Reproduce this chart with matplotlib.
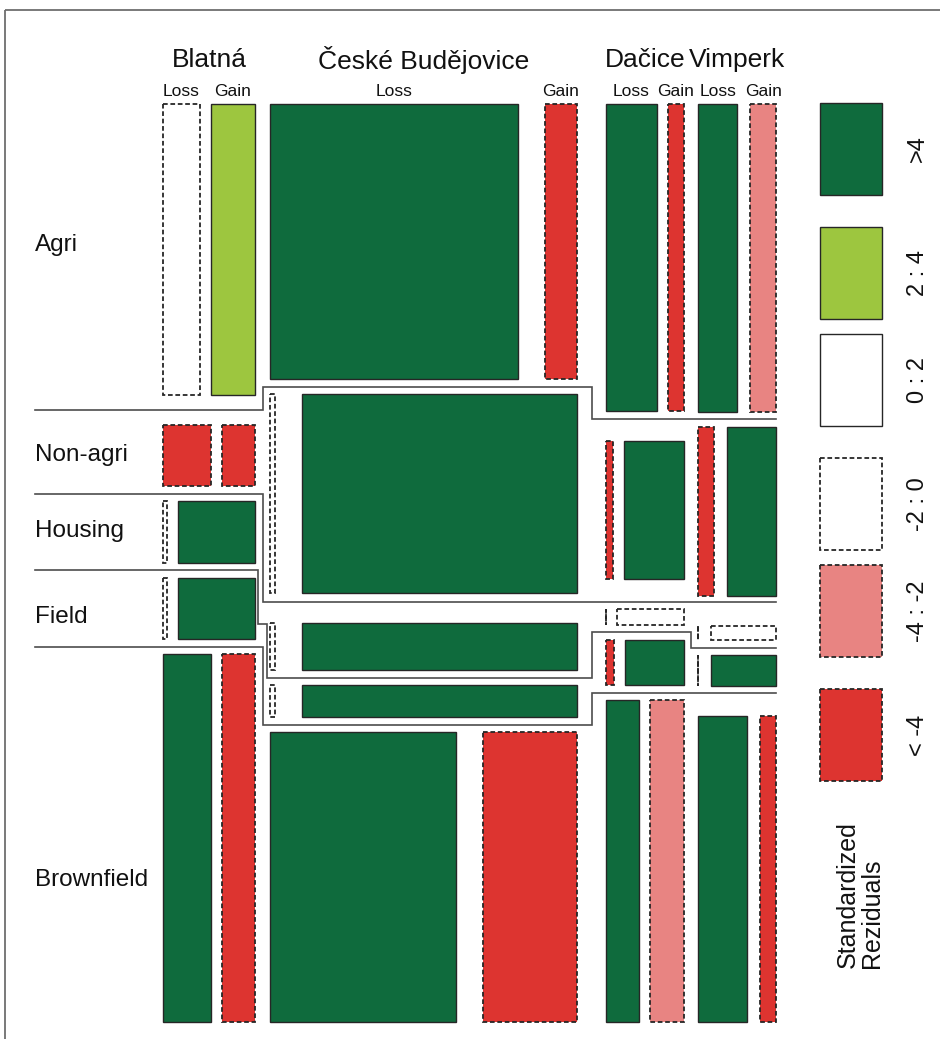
import matplotlib.pyplot as plt
from matplotlib.patches import Rectangle

# ------------------------------------------------------------
# Land-use change by district (mosaic of Loss / Gain areas)
# rows follow `categories`, columns follow `changes`
# ------------------------------------------------------------
districts = ["Blatná", "České Budějovice", "Dačice", "Vimperk"]
categories = ["Agri", "Non-agri", "Housing", "Field", "Brownfield"]
changes = ["Loss", "Gain"]

blatna = [[144, 174], [40, 27], [3, 64], [3, 64], [240, 162]]
budejovice = [[886, 116], [13, 712], [3, 168], [2, 114], [702, 354]]
dacice = [[218, 71], [13, 117], [0, 15], [5, 38], [149, 154]]
vimperk = [[176, 114], [40, 119], [0, 14], [0, 29], [218, 70]]

# standardized residual class of every tile
blatna_res = [["-2:0", "2:4"], ["<-4", "<-4"], ["-2:0", ">4"], ["-2:0", ">4"], [">4", "<-4"]]
budejovice_res = [[">4", "<-4"], ["-2:0", ">4"], ["-2:0", ">4"], ["-2:0", ">4"], [">4", "<-4"]]
dacice_res = [[">4", "<-4"], ["<-4", ">4"], ["-2:0", "-2:0"], ["<-4", ">4"], [">4", "-4:-2"]]
vimperk_res = [[">4", "-4:-2"], ["<-4", ">4"], ["-2:0", "-2:0"], ["-2:0", ">4"], [">4", "<-4"]]

res_classes = [">4", "2:4", "0:2", "-2:0", "-4:-2", "<-4"]
res_text = [">4", "2 : 4", "0 : 2", "-2 : 0", "-4 : -2", "< -4"]

tables = [blatna, budejovice, dacice, vimperk]
resids = [blatna_res, budejovice_res, dacice_res, vimperk_res]

# ------------------------------------------------------------
# styling / layout (canvas units = pixels of the 940 x 1039 image)
# ------------------------------------------------------------
fill = {">4": "#0f6b3d", "2:4": "#9dc63f", "0:2": "white",
        "-2:0": "white", "-4:-2": "#e88482", "<-4": "#dd3430"}
negative = {"-2:0", "-4:-2", "<-4"}
EDGE = "#262626"
DASH = (0, (2.6, 1.5))

X0, X1, Y0, Y1 = 163, 776, 104, 1022
col_gap = [15, 29, 14]
row_gap = [[30, 15, 15, 15], [15, 30, 15, 15], [30, 30, 15, 15], [15, 30, 15, 30]]
split_gap = [11, 27, 11, 13]

plt.rcParams["font.family"] = ["Liberation Sans", "DejaVu Sans"]

fig = plt.figure(figsize=(9.4, 10.39), dpi=100)
ax = fig.add_axes([0, 0, 1, 1])
ax.set_xlim(0, 940)
ax.set_ylim(1039, 0)
ax.axis("off")


def tile(x, y, w, h, cls):
    dashed = cls in negative
    ax.add_patch(Rectangle((x, y), w, h, facecolor=fill[cls], edgecolor=EDGE,
                           linewidth=1.3 if dashed else 1.0,
                           linestyle=DASH if dashed else "solid", zorder=3))


# ---- mosaic geometry -------------------------------------------------
totals = [sum(sum(r) for r in t) for t in tables]
usable_w = (X1 - X0) - sum(col_gap)
cols = []
x = X0
for d, tot in enumerate(totals):
    w = usable_w * tot / sum(totals)
    cols.append((x, x + w))
    if d < len(col_gap):
        x += w + col_gap[d]

rows = []
for d, t in enumerate(tables):
    usable_h = (Y1 - Y0) - sum(row_gap[d])
    y = Y0
    rr = []
    for c, (lo, ga) in enumerate(t):
        h = usable_h * (lo + ga) / totals[d]
        rr.append((y, y + h))
        if c < len(row_gap[d]):
            y += h + row_gap[d][c]
    rows.append(rr)

tiles = {}
for d, t in enumerate(tables):
    xl, xr = cols[d]
    inner = (xr - xl) - split_gap[d]
    for c, (loss, gain) in enumerate(t):
        top, bot = rows[d][c]
        wl = inner * loss / (loss + gain)
        wg = inner * gain / (loss + gain)
        tiles[d, c, 0] = (xl, top, wl, bot - top)
        tiles[d, c, 1] = (xr - wg, top, wg, bot - top)

for (d, c, g), (tx, ty, tw, th) in tiles.items():
    tile(tx, ty, tw, th, resids[d][c][g])

# ---- separators between categories, stepping through the gaps ---------
LINE_X0 = 35
NUDGE = 4.5
step_x = [(cols[g][1] + cols[g + 1][0]) / 2 for g in range(len(cols) - 1)]

seps = []
for k in range(len(categories) - 1):
    gaps = [(rows[d][k][1], rows[d][k + 1][0]) for d in range(len(tables))]
    lo, hi = gaps[0]
    start = 0
    segs = []
    for d in range(1, len(gaps)):
        nlo, nhi = gaps[d]
        if min(hi, nhi) - max(lo, nlo) > 3:
            lo, hi = max(lo, nlo), min(hi, nhi)
        else:
            segs.append((start, (lo + hi) / 2))
            start, lo, hi = d, nlo, nhi
    segs.append((start, (lo + hi) / 2))
    seps.append(segs)

runs = {}
for k, segs in enumerate(seps):
    for (_, ya), (d1, yb) in zip(segs[:-1], segs[1:]):
        runs[k, d1 - 1] = (min(ya, yb), max(ya, yb))


def overlaps(a, b):
    return a is not None and b is not None and min(a[1], b[1]) > max(a[0], b[0])


def both_sides(k, g):
    run = runs.get((k, g))
    return overlaps(run, runs.get((k - 1, g))) and overlaps(run, runs.get((k + 1, g)))


for k, segs in enumerate(seps):
    xs, ys = [LINE_X0], [segs[0][1]]
    for (_, ya), (d1, yb) in zip(segs[:-1], segs[1:]):
        g = d1 - 1
        xm = step_x[g]
        run = runs[k, g]
        if both_sides(k, g):
            yj = (runs[k - 1, g][1] + runs[k + 1, g][0]) / 2
            xs += [xm - NUDGE, xm - NUDGE, xm + NUDGE, xm + NUDGE]
            ys += [ya, yj, yj, yb]
        else:
            xv = xm
            if overlaps(run, runs.get((k - 1, g))) and not both_sides(k - 1, g):
                xv = xm - NUDGE
            elif overlaps(run, runs.get((k + 1, g))) and not both_sides(k + 1, g):
                xv = xm + NUDGE
            xs += [xv, xv]
            ys += [ya, yb]
    xs.append(X1)
    ys.append(segs[-1][1])
    ax.plot(xs, ys, color="#4d4d4d", lw=1.2, solid_joinstyle="miter", zorder=2)

# ---- labels ------------------------------------------------------------
for d, name in enumerate(districts):
    ax.text((cols[d][0] + cols[d][1]) / 2, 60, name, ha="center", va="center",
            fontsize=19, color="#111111")
    for g, ch in enumerate(changes):
        tx, ty, tw, th = tiles[d, 0, g]
        ax.text(tx + tw / 2, 91, ch, ha="center", va="center",
                fontsize=12.5, color="#111111")

label_y = [245, 455, 531, 617, 880]
for c, name in enumerate(categories):
    ax.text(LINE_X0, label_y[c], name, ha="left", va="center",
            fontsize=17.5, color="#111111")

# ---- legend ------------------------------------------------------------
LEG_X, LEG_W, LEG_TOP, LEG_H = 820, 62, 103, 92
legend_gaps = [32, 15, 32, 15, 32]
y = LEG_TOP
for i, cls in enumerate(res_classes):
    tile(LEG_X, y, LEG_W, LEG_H, cls)
    ax.text(918, y + LEG_H / 2, res_text[i], rotation=90, ha="center", va="center",
            fontsize=17, color="#111111")
    if i < len(legend_gaps):
        y += LEG_H + legend_gaps[i]

ax.text(860, 968, "Standardized\nReziduals", rotation=90, ha="center", va="bottom",
        multialignment="left", linespacing=1.0, fontsize=18, color="#111111")

# outer frame (runs off the right and bottom edges)
ax.add_patch(Rectangle((5, 10), 960, 1060, fill=False, edgecolor="#6e6e6e",
                       linewidth=1.3, zorder=1, clip_on=False))

fig.savefig("out.png", dpi=100)
